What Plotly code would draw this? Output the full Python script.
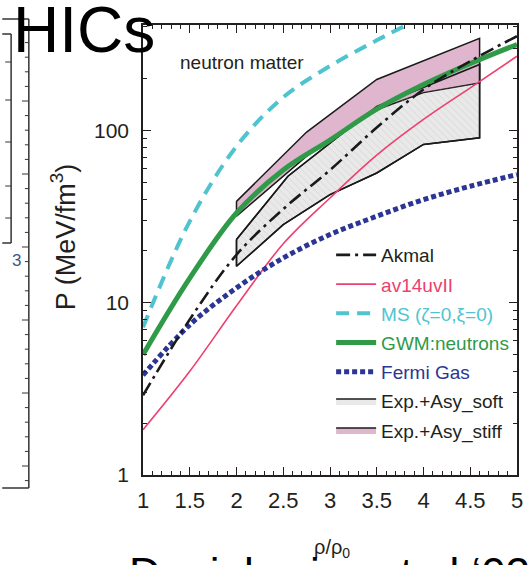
import math
import plotly.graph_objects as go

# ---------------- data ----------------
rho = [1, 1.5, 2, 2.5, 3, 3.5, 4, 4.5, 5]
p_akmal = [2.9, 8.0, 19.0, 35.0, 59.0, 104.0, 173.0, 253.0, 353.0]
p_av14 = [1.83, 4.0, 9.6, 22.0, 40.6, 72.0, 116.0, 177.0, 270.0]
p_gwm = [5.0, 13.9, 33.2, 59.0, 88.0, 133.0, 185.0, 245.0, 316.0]
p_fermi = [3.8, 7.45, 12.2, 18.2, 24.9, 31.8, 39.7, 47.5, 55.5]
rho_ms = [1, 1.5, 2, 2.5, 3, 3.5, 4]
p_ms = [7.2, 29.7, 81.0, 156.0, 237.0, 334.0, 460.0]

stiff_up_x = [2, 2.75, 3.5, 4.6]
stiff_up_p = [38.8, 98.0, 198.0, 343.0]
stiff_lo_x = [2, 2.75, 3.5, 4.0, 4.6]
stiff_lo_p = [31.8, 71.0, 132.0, 166.0, 189.0]
soft_up_x = [2, 2.55, 3.5, 4.6]
soft_up_p = [23.3, 54.3, 138.0, 242.0]
soft_lo_x = [2, 2.5, 3.0, 3.5, 4.0, 4.6]
soft_lo_p = [16.3, 28.4, 42.5, 56.7, 83.0, 90.7]

x_tickvals = [1, 1.5, 2, 2.5, 3, 3.5, 4, 4.5, 5]
x_ticktext = ["1", "1.5", "2", "2.5", "3", "3.5", "4", "4.5", "5"]
y_tickvals = [1, 10, 100]
y_ticktext = ["1", "10", "100"]

# ---------------- style ----------------
FONT = "Liberation Sans, Arial, sans-serif"
TXT = "#231f20"
C_AKMAL = "#1a1a1a"
C_AV14 = "#ee3f6e"
C_MS = "#4fc4cf"
C_GWM = "#2f9a48"
C_FERMI = "#2b3594"
C_PINK = "#dfb6cd"

W, H = 528, 565
ML, MR, MT, MB = 143, 5, 25, 90
PW, PH = W - ML - MR, H - MT - MB


def px(x):
    return (x - ML) / PW


def py(y):
    return (H - MB - y) / PH


def poly(ux, up, lx, lp):
    xs = list(ux) + list(lx)[::-1] + [ux[0]]
    ys = list(up) + list(lp)[::-1] + [up[0]]
    return xs, ys


fig = go.Figure()

fx, fy = poly(soft_up_x, soft_up_p, soft_lo_x, soft_lo_p)
sx, sy = poly(stiff_up_x, stiff_up_p, stiff_lo_x, stiff_lo_p)

# soft band: light background (also provides the legend swatch)
fig.add_trace(go.Scatter(
    x=fx, y=fy, mode="lines", fill="toself", fillcolor="#e9e9e9",
    line=dict(color="#1a1a1a", width=1.5),
    name="Exp.+Asy_soft", legendrank=6, legendgroup="g6"))

# stiff band
fig.add_trace(go.Scatter(
    x=sx, y=sy, mode="lines", fill="toself", fillcolor=C_PINK,
    line=dict(color="#1a1a1a", width=1.5),
    name="Exp.+Asy_stiff", legendrank=7, legendgroup="g7"))

# soft band hatching on top (overlap shows pink + hatch)
fig.add_trace(go.Scatter(
    x=fx, y=fy, mode="lines", fill="toself",
    fillpattern=dict(shape="\\", fgcolor="#b0b0b0", bgcolor="rgba(0,0,0,0)",
                     size=5, solidity=0.12),
    line=dict(color="#1a1a1a", width=1.5),
    name="Exp.+Asy_soft", showlegend=False, legendgroup="g6"))

fig.add_trace(go.Scatter(
    x=rho, y=p_av14, mode="lines", line=dict(color=C_AV14, width=1.6, shape="spline"),
    name=f"<span style='color:{C_AV14}'>av14uvII</span>", legendrank=2, legendgroup="g2"))
fig.add_trace(go.Scatter(
    x=rho, y=p_fermi, mode="lines",
    line=dict(color=C_FERMI, width=5, dash="5px,3px", shape="spline"),
    name=f"<span style='color:{C_FERMI}'>Fermi Gas</span>", legendrank=5, legendgroup="g5"))
fig.add_trace(go.Scatter(
    x=rho_ms, y=p_ms, mode="lines",
    line=dict(color=C_MS, width=4, dash="13px,8px", shape="spline"),
    name=f"<span style='color:{C_MS}'>MS (ζ=0,ξ=0)</span>", legendrank=3, legendgroup="g3"))
fig.add_trace(go.Scatter(
    x=rho, y=p_gwm, mode="lines", line=dict(color=C_GWM, width=5, shape="spline"),
    name=f"<span style='color:{C_GWM}'>GWM:neutrons</span>", legendrank=4, legendgroup="g4"))
fig.add_trace(go.Scatter(
    x=rho, y=p_akmal, mode="lines",
    line=dict(color=C_AKMAL, width=2.6, dash="14px,5px,3px,5px", shape="spline"),
    name="Akmal", legendrank=1, legendgroup="g1"))

ymax = math.log10(410)
minor_y = [k * 10 ** d for d in range(3) for k in range(2, 10) if k * 10 ** d < 410]

axis_common = dict(
    showline=True, linecolor=TXT, linewidth=1.5, mirror="allticks",
    ticks="inside", ticklen=8, tickwidth=1.2, tickcolor=TXT,
    showgrid=False, zeroline=False,
)

fig.update_layout(
    width=W, height=H,
    margin=dict(l=ML, r=MR, t=MT, b=MB),
    paper_bgcolor="white", plot_bgcolor="white",
    font=dict(family=FONT, color=TXT),
    xaxis=dict(range=[1, 5], tickmode="array", tickvals=x_tickvals, ticktext=x_ticktext,
               minor=dict(tick0=1, dtick=0.1, ticks="inside", ticklen=4, tickcolor=TXT),
               tickfont=dict(family=FONT, size=22, color=TXT),
               ticklabelstandoff=5, **axis_common),
    yaxis=dict(type="log", range=[0, ymax], tickmode="array", tickvals=y_tickvals,
               ticktext=y_ticktext,
               minor=dict(tickmode="array", tickvals=minor_y, ticks="inside", ticklen=4,
                          tickcolor=TXT),
               tickfont=dict(family=FONT, size=21, color=TXT),
               ticklabelstandoff=8, **axis_common),
    legend=dict(x=0.503, y=0.531, xanchor="left", yanchor="top",
                bgcolor="rgba(0,0,0,0)", font=dict(family=FONT, size=19, color=TXT),
                tracegroupgap=1.5, itemwidth=40),
    showlegend=True,
)

ann = [
    dict(text="neutron matter", x=px(179), y=py(63), xanchor="left", yanchor="middle",
         font=dict(size=19, color=TXT)),
    dict(text="P (MeV/fm<sup>3</sup>)", x=px(62), y=py(237), textangle=-90,
         xanchor="center", yanchor="middle", font=dict(size=27, color=TXT)),
    dict(text="ρ/ρ<sub>0</sub>", x=px(335), y=py(548), xanchor="center", yanchor="middle",
         font=dict(size=20, color=TXT)),
    dict(text="HICs", x=px(9), y=py(30), xanchor="left", yanchor="middle",
         font=dict(family="Liberation Sans, Arial", size=64, color="black")),
    dict(text="Danielewicz et al ‘02", x=px(127), y=py(573), xanchor="left",
         yanchor="middle", font=dict(family="Liberation Sans, Arial", size=44, color="black")),
    dict(text="3", x=px(14), y=py(260), xanchor="center", yanchor="middle",
         font=dict(family="Liberation Sans, Arial", size=17, color="#3a5a8a")),
]
for a in ann:
    a.update(xref="paper", yref="paper", showarrow=False)
fig.update_layout(annotations=ann)

# decoration: edge of the neighbouring (cropped) panel on the left
shapes = []
lc = dict(color="#333333", width=1.5)
shapes.append(dict(type="line", x0=px(0), x1=px(27), y0=py(19), y1=py(19), line=lc))
shapes.append(dict(type="line", x0=px(27), x1=px(27), y0=py(19), y1=py(488), line=lc))
shapes.append(dict(type="line", x0=px(0), x1=px(27), y0=py(488), y1=py(488), line=lc))
shapes.append(dict(type="line", x0=px(0), x1=px(9), y0=py(34), y1=py(34), line=lc))
shapes.append(dict(type="line", x0=px(9), x1=px(9), y0=py(34), y1=py(243), line=lc))
shapes.append(dict(type="line", x0=px(0), x1=px(9), y0=py(243), y1=py(243), line=lc))
k = 0
yy = 28.0
while yy < 486:
    L = 7 if k % 5 == 0 else 4
    shapes.append(dict(type="line", x0=px(27 - L), x1=px(27), y0=py(yy), y1=py(yy),
                       line=dict(color="#333333", width=1)))
    yy += 14.6
    k += 1
for yy in [62, 100, 142, 186, 218]:
    shapes.append(dict(type="line", x0=px(3), x1=px(9), y0=py(yy), y1=py(yy),
                       line=dict(color="#333333", width=1)))
for s in shapes:
    s.update(xref="paper", yref="paper", layer="above")
fig.update_layout(shapes=shapes)

fig.write_html("out.html")
